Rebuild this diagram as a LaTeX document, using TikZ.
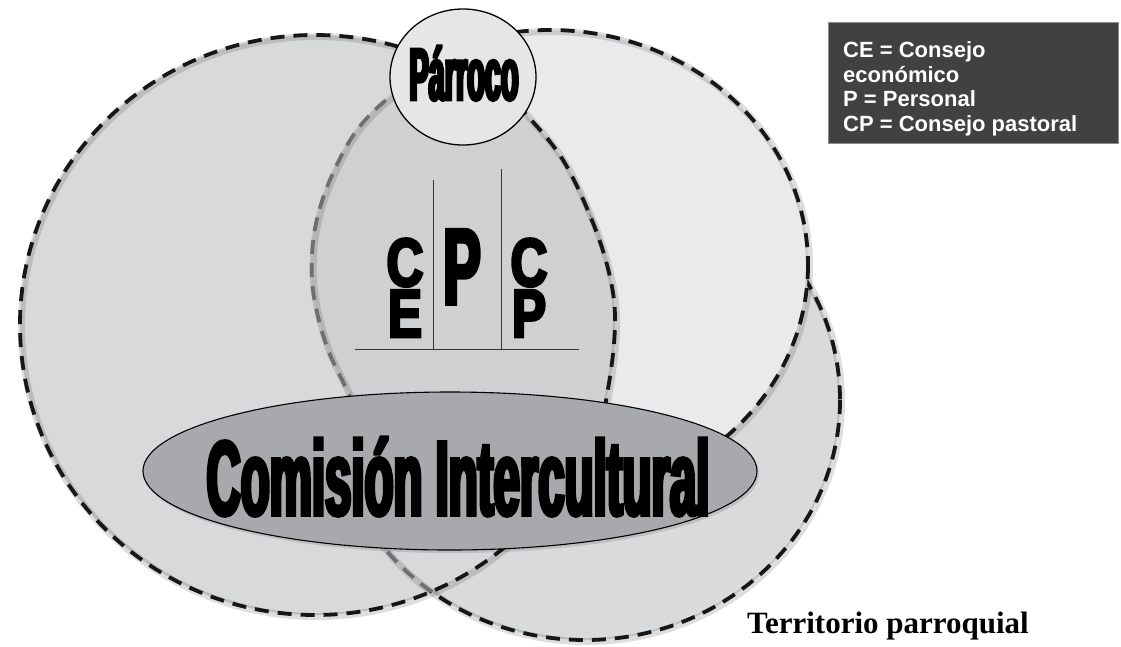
\documentclass[tikz,border=0pt]{standalone}
\usepackage{fontspec}
\setmainfont{Liberation Sans}
% heavy condensed faces: horizontal stretch plus a stroked outline
\newfontfamily\heavywide[FakeStretch=0.447, BoldFeatures={FakeBold=3.5}]{Liberation Sans}
\newfontfamily\heavyp[FakeStretch=0.52, BoldFeatures={FakeBold=3.5}]{Liberation Sans}
\newfontfamily\heavynarrow[FakeStretch=0.39, BoldFeatures={FakeBold=4}]{Liberation Sans}
\newfontfamily\heavyletter[FakeStretch=0.75, BoldFeatures={FakeBold=4}]{Liberation Sans}
\newfontfamily\legendfont{Liberation Sans}
\newfontfamily\labelfont{Liberation Serif}

\definecolor{areaA}{HTML}{D8D9DB}
\definecolor{areaB}{HTML}{EAEAEC}
\definecolor{areaC}{HTML}{D9DADC}
\definecolor{areaD}{HTML}{CFD0D2}
\definecolor{comfill}{HTML}{A8A9AC}
\definecolor{parfill}{HTML}{E6E6E8}
\definecolor{legendbg}{HTML}{414042}
\definecolor{legendrim}{HTML}{8C8C8E}
\definecolor{inkdark}{HTML}{161616}
\definecolor{inkgrey}{HTML}{6E6F71}

% the four overlapping areas (pixel units, y pointing down)
\def\areaA{(315,325) ellipse (295 and 290)}
\def\areaB{(550,265) ellipse (258 and 235)}
\def\areaC{(585,400) ellipse (255 and 240)}
\def\areaD{plot[smooth cycle, tension=0.6] coordinates {
  (462,72) (500,88) (525,113) (563,160) (593,223) (610,277) (615,323)
  (609,383) (595,440) (560,490) (470,515) (400,485) (368,435) (347,390)
  (327,347) (314,297) (312,255) (318,215) (333,173) (357,130) (390,97) (425,78)}}

% two letters stacked on top of each other, baseline at the lower one
\newcommand\letterpair[2]{\heavyletter\bfseries\fontsize{68}{68}\selectfont
  \vbox{\baselineskip=51pt\lineskiplimit=-100pt\lineskip=0pt
    \halign{\hfil##\hfil\cr #1\cr #2\cr}}}

\begin{document}
\begin{tikzpicture}[x=1pt,y=-1pt,
  dashline/.style={line width=3.8pt, dash pattern=on 14pt off 9pt, draw=inkdark,
    preaction={draw=black, opacity=0.13, line width=7pt,
      transform canvas={shift={(1.5,1.5)}}}},
  greydash/.style={dashline, draw=inkgrey},
  rule/.style={draw=black!80, line width=1pt},
  txt/.style={inner sep=0pt, anchor=base},
  legendline/.style={inner sep=0pt, anchor=base west, text=white,
    font=\legendfont\bfseries\fontsize{22}{24}\selectfont}]

\useasboundingbox (0,0) rectangle (1121,646);
\fill[white] (0,0) rectangle (1121,646);

% lower right area, with its outline
\fill[areaC] \areaC;
\draw[dashline] \areaC;
% upper right area
\fill[areaB] \areaB;
\draw[dashline] \areaB;
% large left area
\fill[areaA] \areaA;
\draw[dashline] \areaA;
% the lower right outline seen through the left area
\begin{scope}
  \clip \areaA;
  \clip (0,430) rectangle (1121,646);
  \draw[greydash] \areaC;
\end{scope}

% central area of the councils
\fill[areaD] \areaD;
\begin{scope}
  \clip (0,0) rectangle (463,646);
  \draw[greydash] \areaD;
\end{scope}
\begin{scope}
  \clip (463,0) rectangle (1121,646);
  \draw[dashline] \areaD;
\end{scope}

% table of the three councils
\draw[rule] (355,349) -- (579,349);
\draw[rule] (433,180) -- (433,349);
\draw[rule] (501,169) -- (501,349);
\node[txt] (ce) at (405,337) {\letterpair{C}{E}};
\node[txt] (pers) at (462,304) {\heavyp\bfseries\fontsize{108}{108}\selectfont P};
\node[txt] (cp) at (529,337) {\letterpair{C}{P}};

% intercultural commission
\filldraw[fill=comfill, draw=black, line width=1.1pt,
  preaction={fill=black, opacity=0.12, transform canvas={shift={(2,3)}}}]
  (450,471) ellipse (307 and 79);
\node[txt] (comision) at (458,515)
  {\heavywide\bfseries\fontsize{106}{106}\selectfont Comisión Intercultural};

% parish priest
\filldraw[fill=parfill, draw=black, line width=1.3pt] (463,77) ellipse (73 and 68);
\node[txt] (parroco) at (464,100)
  {\heavynarrow\bfseries\fontsize{74}{74}\selectfont Párroco};

% legend
\filldraw[fill=legendbg, draw=legendrim, line width=1pt] (828,22) rectangle (1118,143);
\node[legendline] (leg1) at (843,57) {CE = Consejo};
\node[legendline] (leg2) at (843,82) {económico};
\node[legendline] (leg3) at (843,106) {P = Personal};
\node[legendline] (leg4) at (843,131) {CP = Consejo pastoral};

% territory caption
\node[inner sep=0pt, anchor=base west] (territorio) at (747,633)
  {\labelfont\bfseries\fontsize{31}{31}\selectfont Territorio parroquial};
\end{tikzpicture}
\end{document}
